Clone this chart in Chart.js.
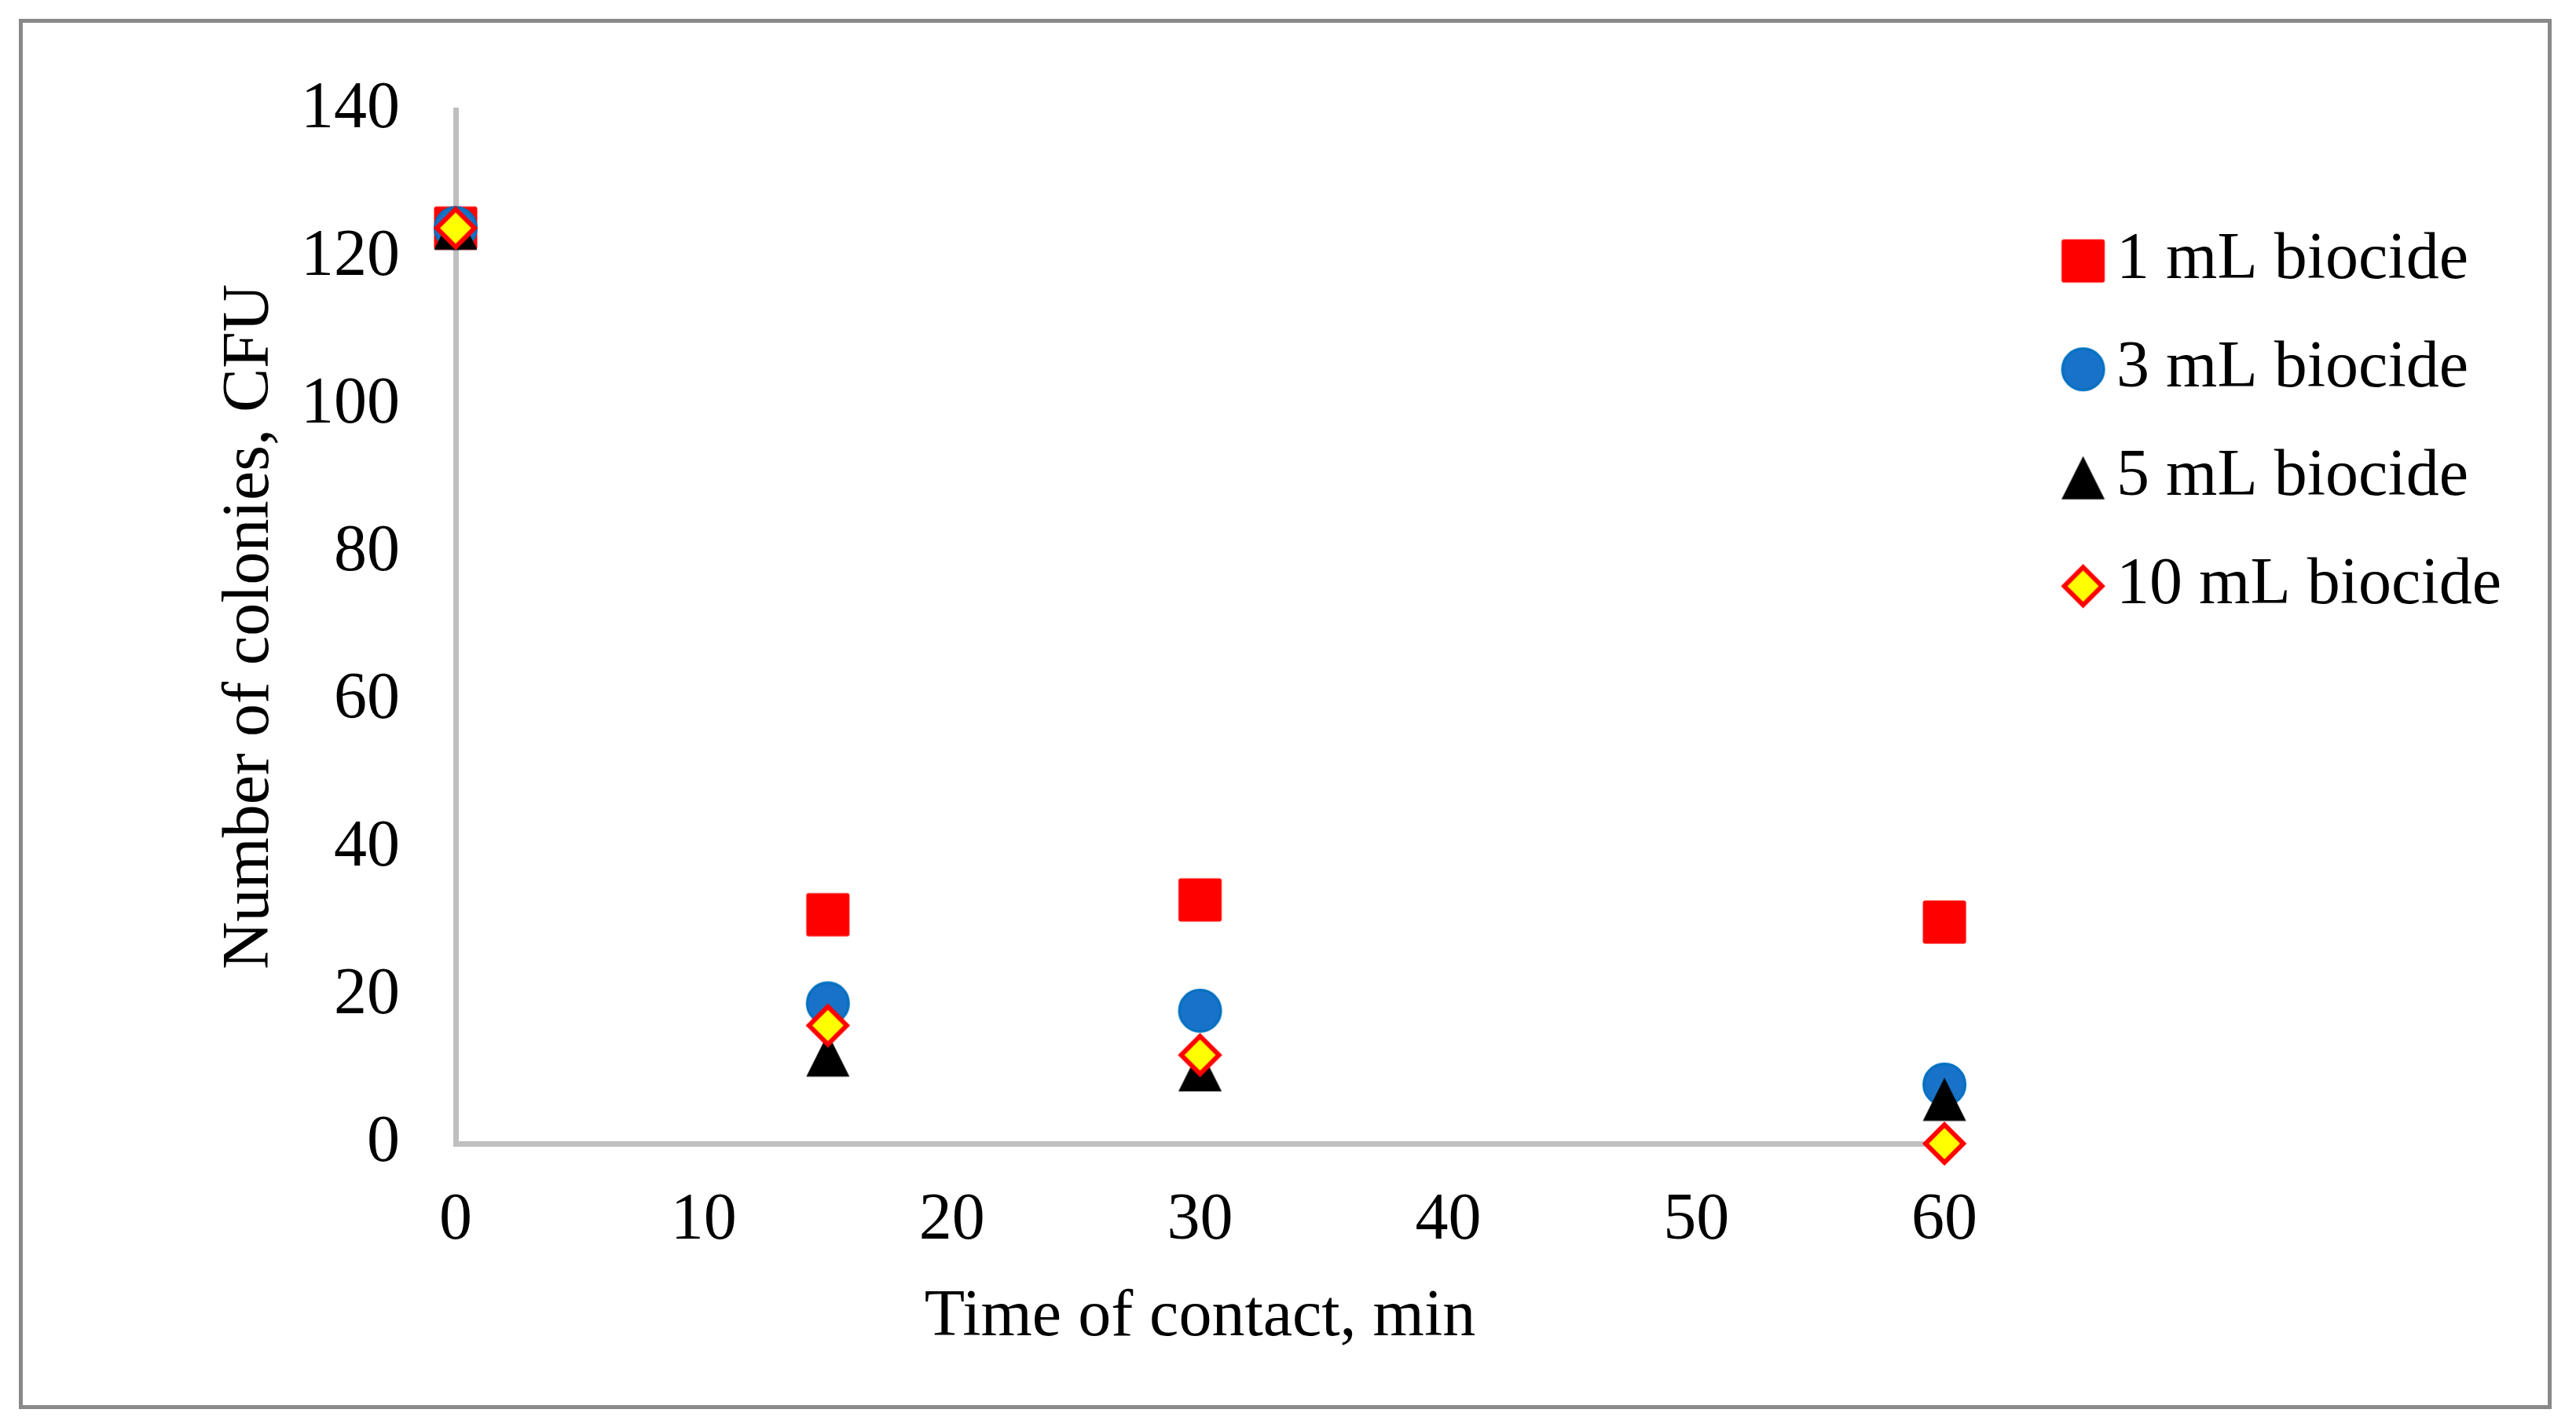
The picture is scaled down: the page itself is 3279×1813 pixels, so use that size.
<!DOCTYPE html>
<html>
<head>
<meta charset="utf-8">
<script src="https://cdn.jsdelivr.net/npm/chart.js@4.4.1/dist/chart.umd.min.js"></script>
<style>
  html, body { margin: 0; padding: 0; background: #fff; overflow: hidden; }
  #wrap { position: relative; width: 3279px; height: 1813px; }
  #frame {
    position: absolute; left: 24px; top: 24px; width: 3224px; height: 1770px;
    box-sizing: border-box; border: 5px solid #898989; pointer-events: none;
  }
</style>
</head>
<body>
<div id="wrap">
  <canvas id="chart"></canvas>
  <div id="frame"></div>
</div>
<script>
const times = [0, 15, 30, 60];
const biocide1 = [124, 31, 33, 30];
const biocide3 = [124, 19, 18, 8];
const biocide5 = [124, 12, 10, 6];
const biocide10 = [124, 16, 12, 0];
const seriesLabels = ['1 mL biocide', '3 mL biocide', '5 mL biocide', '10 mL biocide'];
const xTicks = [0, 10, 20, 30, 40, 50, 60];
const yTicks = [0, 20, 40, 60, 80, 100, 120, 140];

const FONT = "'Liberation Serif', 'Times New Roman', serif";
const SIZE = 84;
const LEGEND_GAP = 122;

// excel-like marker images, 58px square
function marker(draw) {
    const c = document.createElement('canvas');
    c.width = 58;
    c.height = 58;
    draw(c.getContext('2d'));
    return c;
}

const markers = [
    marker(g => {
        g.fillStyle = '#FF0000';
        g.beginPath();
        g.roundRect(1.5, 1.5, 55, 55, 3);
        g.fill();
    }),
    marker(g => {
        g.fillStyle = '#1872C8';
        g.strokeStyle = '#0070C0';
        g.lineWidth = 3;
        g.beginPath();
        g.arc(29, 29, 26.5, 0, Math.PI * 2);
        g.fill();
        g.stroke();
    }),
    marker(g => {
        g.fillStyle = '#000000';
        g.beginPath();
        g.moveTo(29, 1.5);
        g.lineTo(56.5, 56.5);
        g.lineTo(1.5, 56.5);
        g.closePath();
        g.fill();
    }),
    marker(g => {
        g.fillStyle = '#FFFF00';
        g.strokeStyle = '#FF0000';
        g.lineWidth = 6;
        g.lineJoin = 'miter';
        g.beginPath();
        g.moveTo(29, 5);
        g.lineTo(53, 29);
        g.lineTo(29, 53);
        g.lineTo(5, 29);
        g.closePath();
        g.fill();
        g.stroke();
    }),
];

const series = [biocide1, biocide3, biocide5, biocide10];

// push the legend a bit away from the plot area
const legendGap = {
    id: 'legendGap',
    afterLayout(chart) {
        chart.legend.left += LEGEND_GAP;
        chart.legend.right += LEGEND_GAP;
    }
};

Chart.defaults.font.family = FONT;
Chart.defaults.font.size = SIZE;
Chart.defaults.color = '#000';

const axisLine = { display: true, color: '#BFBFBF', width: 7 };

new Chart(document.getElementById('chart'), {
    type: 'scatter',
    plugins: [legendGap],
    data: {
        datasets: series.map((vals, i) => ({
            label: seriesLabels[i],
            data: times.map((t, j) => ({ x: t, y: vals[j] })),
            pointStyle: markers[i],
            pointRadius: 28,
            pointHoverRadius: 28,
            order: series.length - i,
            clip: false,
        }))
    },
    options: {
        responsive: true,
        maintainAspectRatio: false,
        devicePixelRatio: 1,
        animation: false,
        events: [],
        layout: { padding: { left: 269, top: 140, right: 207, bottom: 85 } },
        plugins: {
            tooltip: { enabled: false },
            legend: {
                position: 'right',
                align: 'start',
                title: { display: true, text: '', font: { size: 1 }, padding: { top: 95, bottom: 0 } },
                labels: {
                    usePointStyle: true,
                    boxWidth: 1,
                    padding: 54,
                    color: '#000',
                    font: { size: SIZE },
                    sort: (a, b) => a.datasetIndex - b.datasetIndex,
                }
            }
        },
        scales: {
            x: {
                type: 'linear',
                min: xTicks[0],
                max: xTicks[xTicks.length - 1],
                afterBuildTicks: s => { s.ticks = xTicks.map(v => ({ value: v })); },
                grid: { display: false, drawTicks: false },
                border: axisLine,
                ticks: { padding: 49, font: { size: SIZE }, color: '#000' },
                title: { display: true, text: 'Time of contact, min', font: { size: SIZE }, color: '#000', padding: 0 },
                afterFit: s => { s.height = 272; },
            },
            y: {
                type: 'linear',
                min: yTicks[0],
                max: yTicks[yTicks.length - 1],
                afterBuildTicks: s => { s.ticks = yTicks.map(v => ({ value: v })); },
                grid: { display: false, drawTicks: false },
                border: axisLine,
                ticks: { padding: 71, font: { size: SIZE }, color: '#000' },
                title: { display: true, text: 'Number of colonies, CFU', font: { size: SIZE }, color: '#000', padding: 0 },
                afterFit: s => { s.width = 311; },
            }
        }
    }
});
</script>
</body>
</html>
